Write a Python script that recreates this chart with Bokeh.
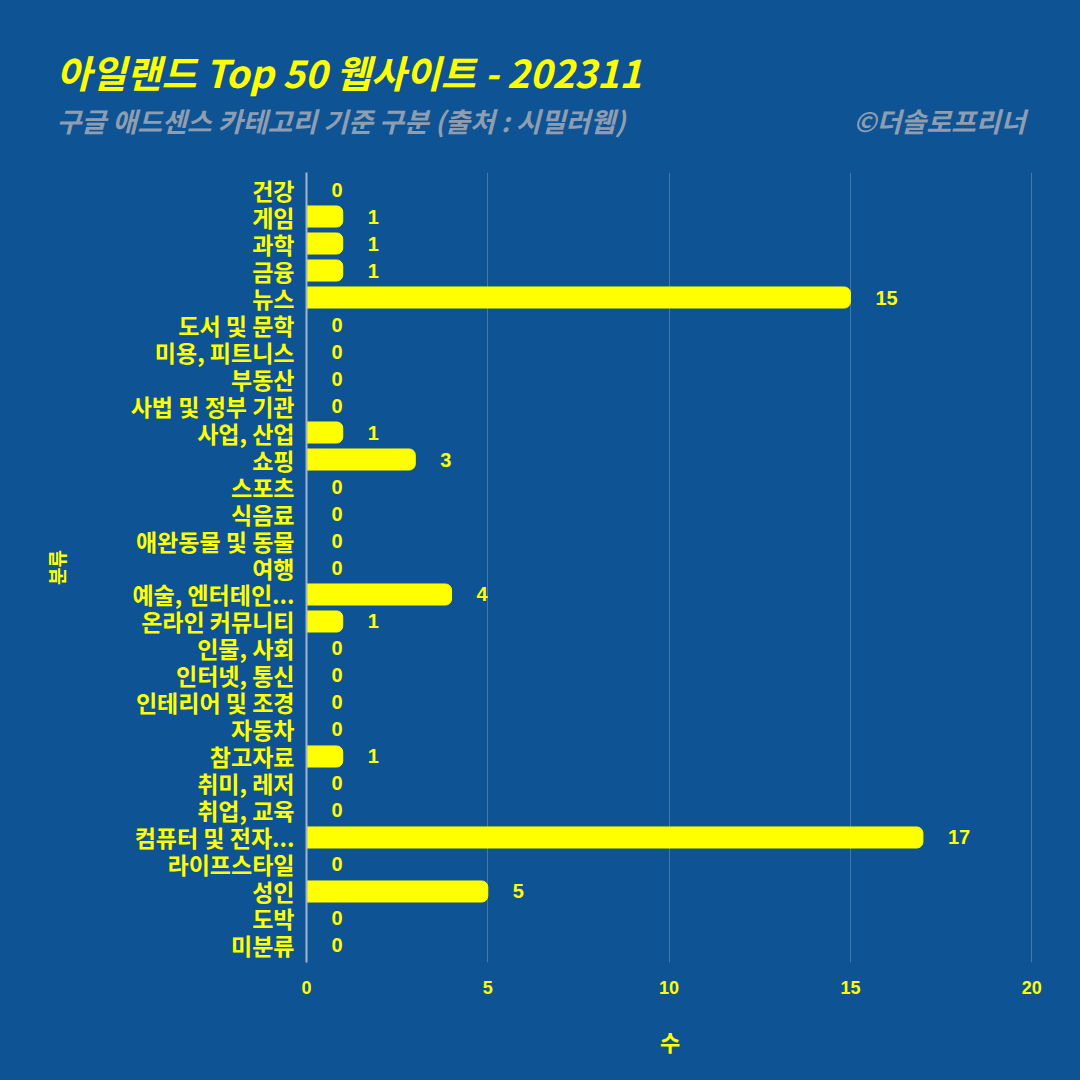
from bokeh.plotting import figure
from bokeh.layouts import column
from bokeh.models import Range1d, FixedTicker
from bokeh.embed import file_html
from bokeh.resources import INLINE
from bokeh.core.properties import value

categories = ["건강", "게임", "과학", "금융", "뉴스", "도서 및 문학", "미용, 피트니스", "부동산",
              "사법 및 정부 기관", "사업, 산업", "쇼핑", "스포츠", "식음료", "애완동물 및 동물", "여행",
              "예술, 엔터테인...", "온라인 커뮤니티", "인물, 사회", "인터넷, 통신", "인테리어 및 조경",
              "자동차", "참고자료", "취미, 레저", "취업, 교육", "컴퓨터 및 전자...", "라이프스타일",
              "성인", "도박", "미분류"]
counts = [0, 1, 1, 1, 15, 0, 0, 0, 0, 1, 3, 0, 0, 0, 0, 4, 1, 0, 0, 0, 0, 1, 0, 0, 17, 0, 5, 0, 0]
x_ticks = [0, 5, 10, 15, 20]

title_text = "아일랜드 Top 50 웹사이트 - 202311"
subtitle_text = "구글 애드센스 카테고리 기준 구분 (출처 : 시밀러웹)"
credit_text = "©더솔로프리너"

BG = "#0e5394"
YEL = "#ffff00"
GRAY = "#8f9db0"
FONT = "Noto Sans CJK KR"
STY = {"background-color": BG}

# ---------- header ----------
HEAD_H = 172
head = figure(width=1080, height=HEAD_H, output_backend="svg", toolbar_location=None,
              x_range=Range1d(0, 1080), y_range=Range1d(HEAD_H, 0),
              min_border=0, x_axis_type=None, y_axis_type=None, styles=STY)
head.frame_align = False
head.background_fill_color = BG
head.border_fill_color = BG
head.outline_line_color = None
head.grid.visible = False
head.text(x=[56], y=[71], text=[title_text], text_align="left", text_baseline="middle",
          text_color=YEL, text_font=value(FONT), text_font_style="bold italic", text_font_size="38px")
head.text(x=[56], y=[120], text=[subtitle_text], text_align="left", text_baseline="middle",
          text_color=GRAY, text_font=value(FONT), text_font_style="bold italic", text_font_size="27px")
head.text(x=[1025], y=[120], text=[credit_text], text_align="right", text_baseline="middle",
          text_color=GRAY, text_font=value(FONT), text_font_style="bold italic", text_font_size="27px")

# ---------- main chart ----------
n = len(categories)
idx = list(range(n))

p = figure(width=1080, height=1080 - HEAD_H, output_backend="svg", toolbar_location=None,
           x_range=Range1d(0, 20.05), y_range=Range1d(n - 1 + 0.63, -0.63),
           min_border_left=306, min_border_right=47, min_border_top=0, min_border_bottom=118,
           styles=STY)
p.frame_align = False
p.background_fill_color = BG
p.border_fill_color = BG
p.outline_line_color = None

p.hbar(y=idx, left=0, right=counts, height=0.78, fill_color=YEL, line_color=YEL,
       border_radius=(0, 6, 6, 0))
p.text(x=counts, y=idx, text=[str(c) for c in counts], x_offset=25,
       text_align="left", text_baseline="middle", text_color=YEL,
       text_font=value("Liberation Sans"), text_font_style="bold", text_font_size="20px")

p.ygrid.visible = False
p.xgrid.grid_line_color = "#ffffff"
p.xgrid.grid_line_alpha = 0.22
p.xgrid.ticker = FixedTicker(ticks=x_ticks)

p.xaxis.ticker = FixedTicker(ticks=x_ticks)
p.xaxis.axis_line_color = None
p.xaxis.major_tick_line_color = None
p.xaxis.minor_tick_line_color = None
p.xaxis.major_label_text_color = YEL
p.xaxis.major_label_text_font = "Liberation Sans"
p.xaxis.major_label_text_font_style = "bold"
p.xaxis.major_label_text_font_size = "18px"
p.xaxis.major_label_standoff = 12
p.xaxis.axis_label = "수"
p.xaxis.axis_label_text_color = YEL
p.xaxis.axis_label_text_font = FONT
p.xaxis.axis_label_text_font_style = "bold"
p.xaxis.axis_label_text_font_size = "22px"
p.xaxis.axis_label_standoff = 28

p.yaxis.ticker = FixedTicker(ticks=idx)
p.yaxis.major_label_overrides = {i: c for i, c in zip(idx, categories)}
p.yaxis.axis_line_color = "#a3b6cc"
p.yaxis.axis_line_width = 2
p.yaxis.major_tick_line_color = None
p.yaxis.minor_tick_line_color = None
p.yaxis.major_label_text_color = YEL
p.yaxis.major_label_text_font = FONT
p.yaxis.major_label_text_font_style = "bold"
p.yaxis.major_label_text_font_size = "23px"
p.yaxis.major_label_standoff = 6
p.yaxis.axis_label = "분류"
p.yaxis.axis_label_text_color = YEL
p.yaxis.axis_label_text_font = FONT
p.yaxis.axis_label_text_font_style = "bold"
p.yaxis.axis_label_text_font_size = "19px"
p.yaxis.axis_label_standoff = 58

layout = column(head, p, spacing=0, styles=STY)
open("out.html", "w").write(file_html(layout, INLINE))
